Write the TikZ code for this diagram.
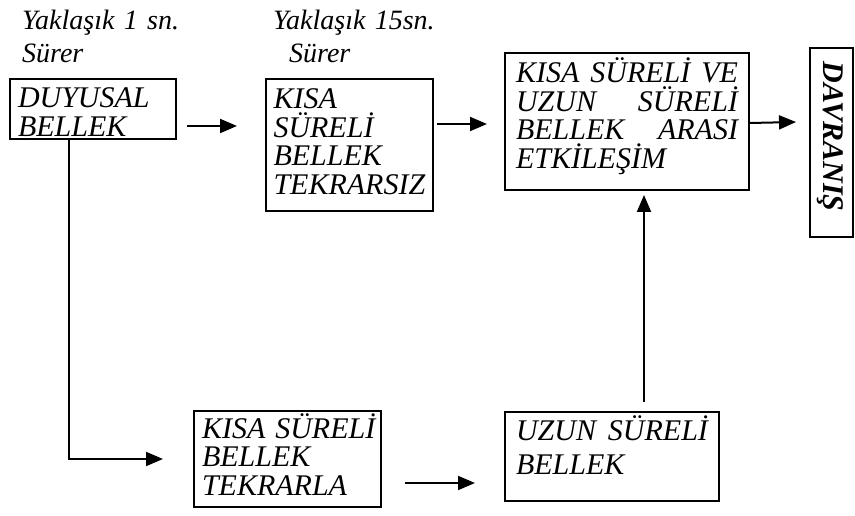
\documentclass[tikz,border=0pt]{standalone}
\usepackage{fontspec}
\setmainfont{Liberation Serif}
\usetikzlibrary{arrows.meta,positioning,calc}

\begin{document}
\begin{tikzpicture}[x=1pt,y=-1pt,>={Triangle[length=17pt,width=14pt]},every node/.style={font=\fontsize{30}{28.5}\selectfont\itshape}]
\tikzset{box/.style={draw,line width=2pt,anchor=north west,align=left,inner ysep=0pt},lbl/.style={anchor=north west,inner sep=0pt,text height=20pt,text width=190pt,align=left,font=\fontsize{28}{33}\selectfont\itshape},arr/.style={->,line width=2pt}}
\useasboundingbox (0,0) rectangle (855,516);
\node[lbl] (sure1) at (22,9) {Yaklaşık 1 sn.\\Sürer};
\node[lbl] (sure2) at (273,9) {Yaklaşık 15sn.\\\hspace*{16pt}Sürer};
\node[box,text width=150pt,inner xsep=8pt,text height=29pt,text depth=31pt] (dbel) at (9,78) {DUYUSAL\\BELLEK};
\node[box,text width=152pt,inner xsep=7.5pt,text height=30pt,text depth=102pt] (kstr) at (265,78) {KISA\\SÜRELİ\\BELLEK\\TEKRARSIZ};
\node[box,text width=222pt,inner xsep=11pt,text height=30pt,text depth=107pt] (etk) at (504,52) {KISA\hfill SÜRELİ\hfill VE\\UZUN\hfill SÜRELİ\\BELLEK\hfill ARASI\\ETKİLEŞİM};
\node[box,anchor=center,rotate=-90,text width=161pt,inner xsep=14pt,text height=30pt,text depth=13pt,font=\fontsize{30}{30}\selectfont\bfseries\itshape] (davr) at (831.5,142.5) {DAVRANIŞ};
\node[box,text width=171pt,inner xsep=8pt,text height=27pt,text depth=69pt] (ktek) at (193,410) {\mbox{KISA SÜRELİ}\\BELLEK\\TEKRARLA};
\node[box,text width=192pt,inner xsep=11pt,text height=28pt,text depth=61pt,font=\fontsize{30}{34}\selectfont\itshape] (uzun) at (504,411) {UZUN\hfill SÜRELİ\\BELLEK};
\draw[arr] ($(dbel.east)+(10,17)$) -- ($(kstr.west)+(-28,-19)$);
\draw[arr] ($(kstr.east)+(3,-21)$) -- ($(etk.west)+(-17,2.5)$);
\draw[arr] ($(etk.east)+(0,1.5)$) -- ($(davr.south)+(-13,-20.5)$);
\draw[arr] ($(dbel.south)+(-24,0)$) |- ($(ktek.west)+(-30,0)$);
\draw[arr] ($(ktek.east)+(23,24)$) -- ($(uzun.west)+(-29,26.5)$);
\draw[arr] ($(uzun.north)+(32,-9)$) -- ($(etk.south)+(17,4)$);
\end{tikzpicture}
\end{document}
